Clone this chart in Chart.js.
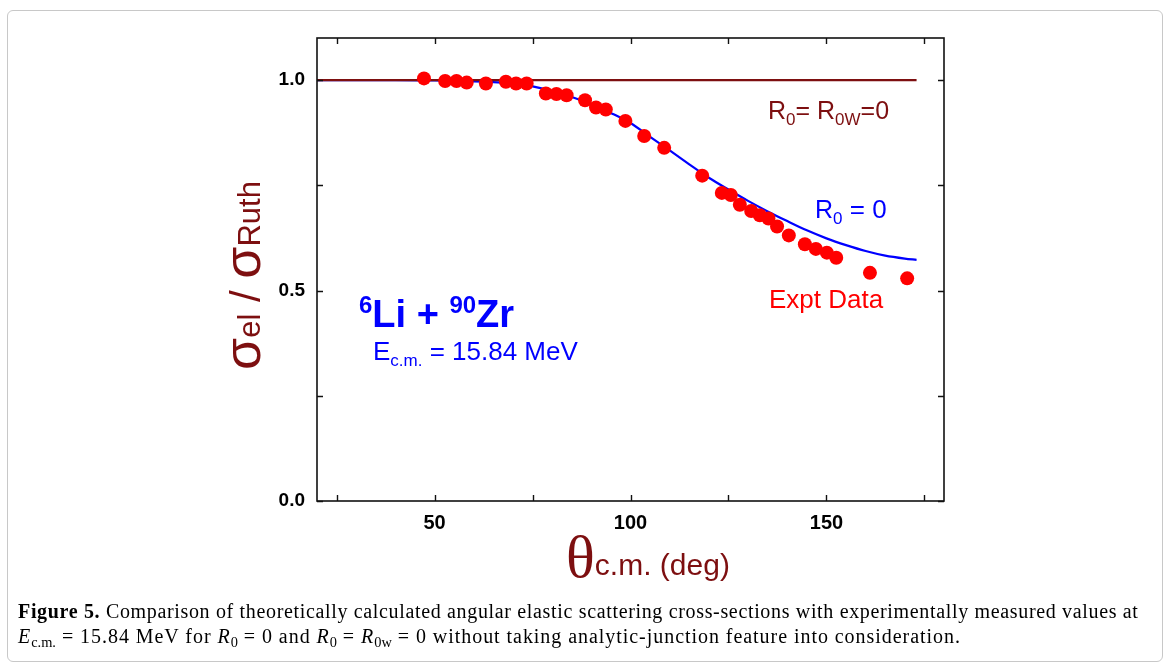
<!DOCTYPE html>
<html>
<head>
<meta charset="utf-8">
<script src="https://cdn.jsdelivr.net/npm/chart.js@4.4.1/dist/chart.umd.min.js"></script>
<style>
  html, body { margin: 0; padding: 0; background: #fff; }
  body { width: 1170px; height: 668px; position: relative; overflow: hidden; }
  #frame { position: absolute; left: 7px; top: 10px; width: 1156px; height: 652px;
           border: 1px solid #c8c8c8; border-radius: 6px; box-sizing: border-box; }
  #c { position: absolute; left: 0; top: 0; }
  #caption { position: absolute; left: 18px; top: 599px; font-family: "Liberation Serif", "DejaVu Serif", serif;
             font-size: 20px; letter-spacing: 0.66px; line-height: 25px; color: #000; white-space: nowrap; }
  #caption .sb { font-size: 0.72em; vertical-align: -0.28em; line-height: 0; letter-spacing: 0; }
  #caption .l2 { letter-spacing: 0.95px; }
</style>
</head>
<body>
<div id="frame"></div>
<canvas id="c" width="1170" height="668"></canvas>
<div id="caption"><b>Figure 5.</b> Comparison of theoretically calculated angular elastic scattering cross-sections with experimentally measured values at<br><span class="l2"><i>E</i><span class="sb">c.m.</span> = 15.84 MeV for <i>R</i><span class="sb">0</span> = 0 and <i>R</i><span class="sb">0</span> = <i>R</i><span class="sb">0w</span> = 0 without taking analytic-junction feature into consideration.</span></div>
<script>
// Measured elastic scattering ratio sigma_el / sigma_Ruth, 6Li + 90Zr at Ec.m. = 15.84 MeV
const exptTheta = [47.3, 52.7, 55.6, 58.2, 63.1, 68.2, 70.8, 73.5, 78.4, 81.1, 83.7, 88.4,
                   91.2, 93.7, 98.7, 103.5, 108.6, 118.3, 123.3, 125.6, 127.9, 130.8, 133.0,
                   135.2, 137.4, 140.4, 144.5, 147.3, 150.1, 152.5, 161.1, 170.6];
const exptRatio = [1.004, 0.998, 0.998, 0.994, 0.992, 0.996, 0.992, 0.992, 0.968, 0.967, 0.964, 0.952,
                   0.935, 0.930, 0.903, 0.867, 0.839, 0.773, 0.732, 0.727, 0.704, 0.689, 0.679,
                   0.671, 0.652, 0.631, 0.610, 0.599, 0.590, 0.578, 0.542, 0.529];

// Calculation with R0 = 0
const r0Theta = [20, 30, 40, 50, 60, 65, 70, 75, 80, 85, 90, 95, 100, 105, 110, 115, 120,
                 125, 130, 135, 140, 145, 150, 155, 160, 165, 170, 173];
const r0Ratio = [1.000, 1.000, 1.000, 0.999, 0.997, 0.995, 0.992, 0.985, 0.974, 0.960, 0.943, 0.922,
                 0.898, 0.865, 0.833, 0.800, 0.768, 0.740, 0.713, 0.688, 0.665, 0.643, 0.624,
                 0.608, 0.594, 0.583, 0.576, 0.573];

// Calculation with R0 = R0W = 0 (pure Rutherford)
const r0wTheta = [20, 173];
const r0wRatio = [1.0, 1.0];

// Axis ticks
const xMajor = [50, 100, 150];
const xMinor = [25, 75, 125, 175];
const xTickLabels = ['50', '100', '150'];
const yMajor = [0, 0.5, 1.0];
const yMinor = [0.25, 0.75];
const yTickLabels = ['0.0', '0.5', '1.0'];

const SANS = '"Liberation Sans", Arial, sans-serif';
const SERIF = '"Liberation Serif", "Times New Roman", serif';
const MAROON = '#7d0f10';
const BLUE = '#0000ff';
const RED = '#ff0000';

const toXY = (xs, ys) => xs.map((x, i) => ({ x: x, y: ys[i] }));

// Draws a run of text pieces with their own fonts and baseline shifts
function drawRich(ctx, x, y, parts, color, align) {
  ctx.save();
  ctx.fillStyle = color;
  ctx.textBaseline = 'alphabetic';
  ctx.textAlign = 'left';
  let total = 0;
  parts.forEach(p => { ctx.font = p.font; total += ctx.measureText(p.text).width; });
  let cx = align === 'center' ? x - total / 2 : x;
  parts.forEach(p => {
    ctx.font = p.font;
    ctx.fillText(p.text, cx, y + (p.dy || 0));
    cx += ctx.measureText(p.text).width;
  });
  ctx.restore();
}

// Box around the plot area with inward tick marks on all four sides
const frameBox = {
  id: 'frameBox',
  afterDraw(chart) {
    const { ctx, chartArea: a, scales: { x, y } } = chart;
    ctx.save();
    ctx.strokeStyle = '#111';
    ctx.lineWidth = 1.6;
    ctx.strokeRect(a.left, a.top, a.right - a.left, a.bottom - a.top);
    ctx.lineWidth = 1.4;
    const len = 6;
    ctx.beginPath();
    xMajor.concat(xMinor).forEach(v => {
      const px = Math.round(x.getPixelForValue(v)) + 0.5;
      ctx.moveTo(px, a.bottom); ctx.lineTo(px, a.bottom - len);
      ctx.moveTo(px, a.top); ctx.lineTo(px, a.top + len);
    });
    yMajor.concat(yMinor).forEach(v => {
      const py = Math.round(y.getPixelForValue(v)) + 0.5;
      ctx.moveTo(a.left, py); ctx.lineTo(a.left + len, py);
      ctx.moveTo(a.right, py); ctx.lineTo(a.right - len, py);
    });
    ctx.stroke();
    ctx.restore();
  }
};

// Axis titles and in-plot labels
const labels = {
  id: 'labels',
  afterDraw(chart) {
    const { ctx, chartArea: a } = chart;

    // y title: sigma_el / sigma_Ruth
    ctx.save();
    ctx.translate(260, (a.top + a.bottom) / 2 + 6);
    ctx.rotate(-Math.PI / 2);
    drawRich(ctx, 0, 0, [
      { text: 'σ', font: '52px ' + SANS },
      { text: 'el', font: '31px ' + SANS },
      { text: ' / ', font: '42px ' + SANS },
      { text: 'σ', font: '52px ' + SANS },
      { text: 'Ruth', font: '31px ' + SANS }
    ], MAROON, 'center');
    ctx.restore();

    // x title: theta_c.m. (deg)
    drawRich(ctx, 648, 577, [
      { text: 'θ', font: '60px ' + SERIF },
      { text: 'c.m. (deg)', font: '30px ' + SANS, dy: -2 }
    ], MAROON, 'center');

    drawRich(ctx, 768, 119, [
      { text: 'R', font: '25px ' + SANS },
      { text: '0', font: '17px ' + SANS, dy: 6 },
      { text: '= R', font: '25px ' + SANS },
      { text: '0W', font: '17px ' + SANS, dy: 6 },
      { text: '=0', font: '25px ' + SANS }
    ], MAROON);

    drawRich(ctx, 815, 218, [
      { text: 'R', font: '25px ' + SANS },
      { text: '0', font: '17px ' + SANS, dy: 6 },
      { text: ' = 0', font: '26px ' + SANS }
    ], BLUE);

    drawRich(ctx, 769, 308, [{ text: 'Expt Data', font: '26px ' + SANS }], RED);

    drawRich(ctx, 359, 327, [
      { text: '6', font: 'bold 24px ' + SANS, dy: -14 },
      { text: 'Li + ', font: 'bold 38px ' + SANS },
      { text: '90', font: 'bold 24px ' + SANS, dy: -14 },
      { text: 'Zr', font: 'bold 38px ' + SANS }
    ], BLUE);

    drawRich(ctx, 373, 360, [
      { text: 'E', font: '26px ' + SANS },
      { text: 'c.m.', font: '17px ' + SANS, dy: 6 },
      { text: ' = 15.84 MeV', font: '26px ' + SANS }
    ], BLUE);
  }
};

new Chart(document.getElementById('c'), {
  type: 'scatter',
  data: {
    datasets: [
      {
        label: 'Expt Data',
        data: toXY(exptTheta, exptRatio),
        showLine: false,
        pointRadius: 7,
        pointBackgroundColor: RED,
        pointBorderWidth: 0
      },
      {
        label: 'R0 = R0W = 0',
        data: toXY(r0wTheta, r0wRatio),
        showLine: true,
        borderColor: MAROON,
        borderWidth: 2.2,
        pointRadius: 0
      },
      {
        label: 'R0 = 0',
        data: toXY(r0Theta, r0Ratio),
        showLine: true,
        borderColor: BLUE,
        borderWidth: 2.2,
        pointRadius: 0,
        cubicInterpolationMode: 'monotone'
      }
    ]
  },
  options: {
    responsive: false,
    animation: false,
    devicePixelRatio: 1,
    layout: { padding: { top: 38, right: 226, left: 0, bottom: 0 } },
    plugins: { legend: { display: false }, tooltip: { enabled: false } },
    scales: {
      x: {
        type: 'linear',
        min: 20,
        max: 180,
        afterFit(s) { s.height = 167; },
        afterBuildTicks(s) { s.ticks = xMajor.concat(xMinor).sort((p, q) => p - q).map(v => ({ value: v })); },
        grid: { display: false, drawTicks: false },
        border: { display: false },
        ticks: {
          autoSkip: false,
          maxRotation: 0,
          padding: 10,
          color: '#000',
          font: { family: SANS, size: 20, weight: 'bold' },
          callback(v) { const i = xMajor.indexOf(v); return i >= 0 ? xTickLabels[i] : ''; }
        }
      },
      y: {
        type: 'linear',
        min: 0,
        max: 1.1,
        afterFit(s) { s.width = 317; },
        afterBuildTicks(s) { s.ticks = yMajor.concat(yMinor).sort((p, q) => p - q).map(v => ({ value: v })); },
        grid: { display: false, drawTicks: false },
        border: { display: false },
        ticks: {
          autoSkip: false,
          padding: 12,
          color: '#000',
          font: { family: SANS, size: 19, weight: 'bold' },
          callback(v) { const i = yMajor.indexOf(v); return i >= 0 ? yTickLabels[i] : ''; }
        }
      }
    }
  },
  plugins: [frameBox, labels]
});
</script>
</body>
</html>
